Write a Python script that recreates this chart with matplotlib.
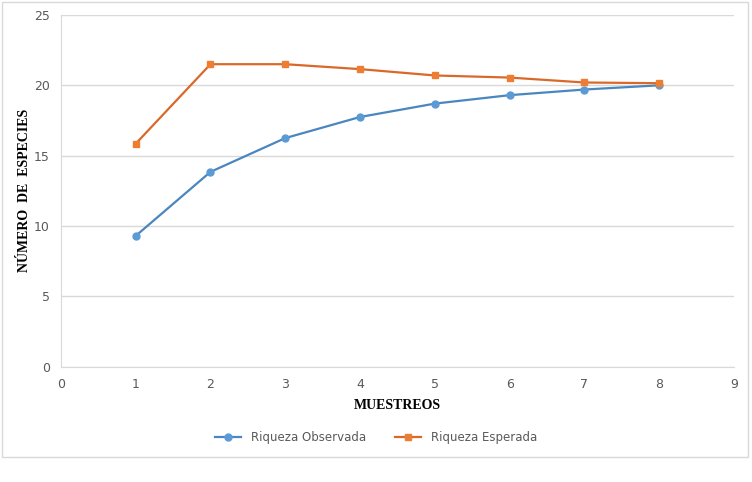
import matplotlib
matplotlib.use("Agg")
import matplotlib.pyplot as plt
from matplotlib.patches import Rectangle

# datos
muestreos = [1, 2, 3, 4, 5, 6, 7, 8]
riqueza_observada = [9.3, 13.85, 16.25, 17.75, 18.7, 19.3, 19.7, 20.0]
riqueza_esperada = [15.85, 21.5, 21.5, 21.15, 20.7, 20.55, 20.2, 20.15]
y_ticks = [0, 5, 10, 15, 20, 25]
x_ticks = list(range(0, 10))

azul = "#5b9bd5"
naranja = "#ed7d31"

fig = plt.figure(figsize=(7.52, 4.82), dpi=100)
ax = fig.add_axes([0.081, 0.239, 0.895, 0.730])

ax.plot(muestreos, riqueza_observada, color="#4a86bf", lw=1.6, marker="o",
        ms=5, mfc=azul, mec=azul, label="Riqueza Observada", zorder=3)
ax.plot(muestreos, riqueza_esperada, color="#d9692a", lw=1.6, marker="s",
        ms=5, mfc=naranja, mec=naranja, label="Riqueza Esperada", zorder=3)

ax.set_xlim(0, 9)
ax.set_ylim(0, 25)
ax.set_xticks(x_ticks)
ax.set_yticks(y_ticks)
ax.grid(axis="y", color="#d9d9d9", lw=1)
ax.set_axisbelow(True)
for s in ["top", "right"]:
    ax.spines[s].set_visible(False)
ax.spines["left"].set_color("#d9d9d9")
ax.spines["bottom"].set_color("#d9d9d9")
ax.tick_params(length=0, labelsize=9, colors="#595959", pad=8)

ax.set_xlabel("MUESTREOS", family="Liberation Serif", fontweight="bold",
              fontsize=10, labelpad=6)
ax.set_ylabel("NÚMERO  DE  ESPECIES", family="Liberation Serif", fontweight="bold",
              fontsize=10)
ax.yaxis.set_label_coords(-0.045, 0.5)

fig.legend(loc="center", bbox_to_anchor=(0.5, 0.093), ncol=2, frameon=False,
           fontsize=8.5, handlelength=2.2, columnspacing=2.5,
           labelcolor="#595959")

fig.patches.append(Rectangle((0.003, 0.052), 0.992, 0.944, transform=fig.transFigure,
                             fill=False, ec="#d9d9d9", lw=1))

fig.savefig("out.png", dpi=100)
